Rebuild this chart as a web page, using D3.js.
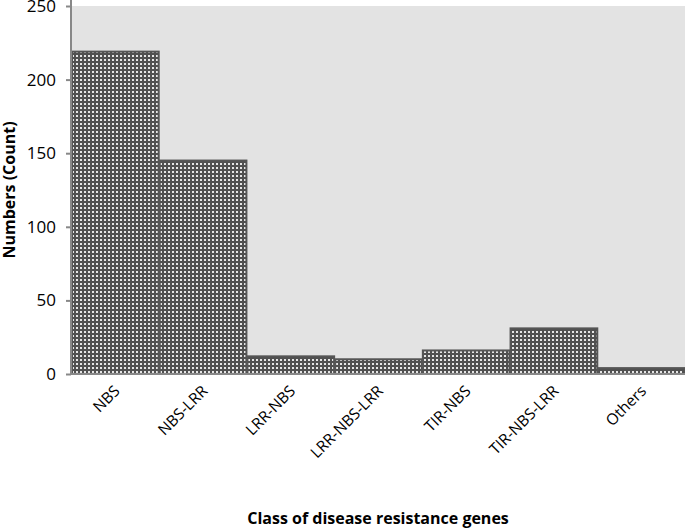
<!DOCTYPE html>
<html>
<head>
<meta charset="utf-8">
<script src="https://cdn.jsdelivr.net/npm/d3@7"></script>
<style>
  html, body { margin: 0; padding: 0; background: #fff; }
  svg { display: block; }
  text { font-family: "Open Sans", "Liberation Sans", sans-serif; }
</style>
</head>
<body>
<div id="chart"></div>
<script>
const categories = ["NBS", "NBS-LRR", "LRR-NBS", "LRR-NBS-LRR", "TIR-NBS", "TIR-NBS-LRR", "Others"];
const counts = [219, 145, 12, 10, 16, 31, 4];
const yTicks = [0, 50, 100, 150, 200, 250];
const xTitle = "Class of disease resistance genes";
const yTitle = "Numbers (Count)";

const W = 685, H = 532;
const margin = { top: 6, right: 0, bottom: 158, left: 71 };
const iw = W - margin.left - margin.right;
const ih = H - margin.top - margin.bottom;

const svg = d3.select("#chart").append("svg").attr("width", W).attr("height", H);

const defs = svg.append("defs");
const pat = defs.append("pattern")
  .attr("id", "dots").attr("patternUnits", "userSpaceOnUse")
  .attr("width", 4).attr("height", 4);
pat.append("rect").attr("width", 4).attr("height", 4).attr("fill", "#505050");
pat.append("rect").attr("x", 1).attr("y", 1).attr("width", 2).attr("height", 2).attr("fill", "#e6e6e6");

const g = svg.append("g").attr("transform", `translate(${margin.left},${margin.top})`);

const x = d3.scaleBand().domain(categories).range([0, iw]).padding(0);
const y = d3.scaleLinear().domain([0, 250]).range([ih, 0]);

g.append("rect").attr("width", iw).attr("height", ih).attr("fill", "#e3e3e3");

g.selectAll(".bar").data(categories).join("rect")
  .attr("class", "bar")
  .attr("x", d => x(d) + 1)
  .attr("y", (d, i) => y(counts[i]))
  .attr("width", x.bandwidth() - 1)
  .attr("height", (d, i) => ih - y(counts[i]))
  .attr("fill", "url(#dots)")
  .attr("stroke", "#555")
  .attr("stroke-width", 2);

// y axis
const yAxis = g.append("g").call(d3.axisLeft(y).tickValues(yTicks).tickSize(5).tickPadding(10));
yAxis.select(".domain").attr("stroke", "#888").attr("stroke-width", 2).attr("d", `M0,${ih}V-6`);
yAxis.selectAll(".tick line").attr("stroke", "#888").attr("stroke-width", 2);
yAxis.selectAll(".tick text").attr("font-size", 17).attr("fill", "#000")
  .attr("font-family", "'Open Sans', sans-serif");

// x axis baseline
g.append("line").attr("x1", 0).attr("x2", iw).attr("y1", ih).attr("y2", ih)
  .attr("stroke", "#888").attr("stroke-width", 2);

// x labels
g.selectAll(".xl").data(categories).join("text")
  .attr("class", "xl")
  .attr("text-anchor", "end")
  .attr("font-size", 15.5)
  .attr("fill", "#000")
  .attr("transform", d => `translate(${x(d) + x.bandwidth() / 2 + 6},${ih + 18}) rotate(-45)`)
  .text(d => d);

svg.append("text")
  .attr("x", margin.left + iw / 2).attr("y", 524)
  .attr("text-anchor", "middle").attr("font-size", 16).attr("font-weight", "bold")
  .text(xTitle);

svg.append("text")
  .attr("transform", `translate(15,${margin.top + ih / 2}) rotate(-90)`)
  .attr("text-anchor", "middle").attr("font-size", 16).attr("font-weight", "bold")
  .text(yTitle);
</script>
</body>
</html>
